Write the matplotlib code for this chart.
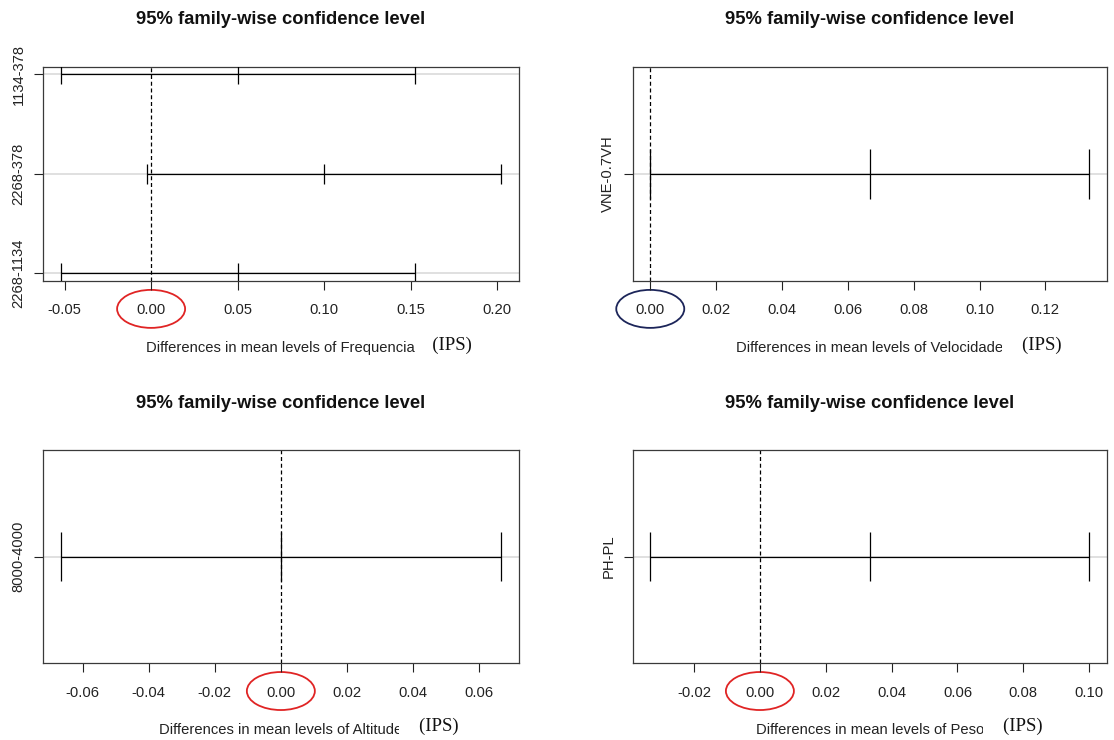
import numpy as np
import matplotlib.pyplot as plt
from matplotlib.patches import Ellipse
from matplotlib.transforms import ScaledTranslation, blended_transform_factory

plt.rcParams['font.family'] = ['Liberation Sans', 'DejaVu Sans']

# Tukey HSD results (diff, lower, upper) for each factor
freq_pairs = ["1134-378", "2268-378", "2268-1134"]
freq_diff = [0.05, 0.10, 0.05]
freq_lwr = [-0.0523, -0.0023, -0.0523]
freq_upr = [0.1523, 0.2023, 0.1523]
freq_ticks = [-0.05, 0.00, 0.05, 0.10, 0.15, 0.20]

vel_pairs = ["VNE-0.7VH"]
vel_diff = [0.0667]
vel_lwr = [0.0]
vel_upr = [0.1333]
vel_ticks = [0.00, 0.02, 0.04, 0.06, 0.08, 0.10, 0.12]

alt_pairs = ["8000-4000"]
alt_diff = [0.0]
alt_lwr = [-0.0667]
alt_upr = [0.0667]
alt_ticks = [-0.06, -0.04, -0.02, 0.00, 0.02, 0.04, 0.06]

peso_pairs = ["PH-PL"]
peso_diff = [0.0333]
peso_lwr = [-0.0333]
peso_upr = [0.1000]
peso_ticks = [-0.02, 0.00, 0.02, 0.04, 0.06, 0.08, 0.10]

W, H = 1114, 740
fig = plt.figure(figsize=(W / 100, H / 100), dpi=100)


def add_axes_px(left, top, right, bottom):
    return fig.add_axes([left / W, 1 - bottom / H, (right - left) / W, (bottom - top) / H])


def tukey_panel(ax, pairs, diff, lwr, upr, ticks, factor, ring_color):
    n = len(pairs)
    yvals = np.arange(n, 0, -1)
    lo, hi = min(lwr), max(upr)
    xpad = 0.04 * (hi - lo)
    xlim = (lo - xpad, hi + xpad)
    y0, y1 = (0.6, 1.4) if n == 1 else (1, n)
    ypad = 0.04 * (y1 - y0)

    ax.hlines(yvals, *xlim, colors='#dddddd', lw=1.3, zorder=1)
    ax.axvline(0, color='black', lw=0.9, ls=(0, (3.2, 2.2)), zorder=2)
    ax.hlines(yvals, lwr, upr, colors='black', lw=0.9, zorder=3)
    for vals in (lwr, diff, upr):
        ax.vlines(vals, yvals - 0.1, yvals + 0.1, colors='black', lw=0.9, zorder=3)

    ax.set_xlim(*xlim)
    ax.set_ylim(y0 - ypad, y1 + ypad)
    ax.set_xticks(ticks, labels=[f"{t:.2f}" for t in ticks])
    ax.set_yticks(yvals, labels=pairs, rotation=90, va='center')
    ax.tick_params(axis='both', length=6.5, width=0.8, labelsize=10.6, colors='#222222')
    ax.tick_params(axis='x', pad=9.5)
    ax.tick_params(axis='y', pad=6)
    for sp in ax.spines.values():
        sp.set_color('#3a3a3a')
        sp.set_linewidth(0.9)

    ax.text(0.5, 1 + 47 / 214.5, "95% family-wise confidence level", transform=ax.transAxes,
            ha='center', va='center', fontsize=13.2, fontweight='bold', color='#111111')
    ax.text(0.5, -0.312, f"Differences in mean levels of {factor}", transform=ax.transAxes,
            ha='center', va='center', fontsize=10.6, color='#222222')

    # ring around the zero tick label
    anchor = blended_transform_factory(ax.transData, ax.transAxes)
    ring = Ellipse((0, 0), 0.68, 0.38, fill=False, ec=ring_color, lw=1.3, clip_on=False,
                   transform=fig.dpi_scale_trans + ScaledTranslation(0.0, -0.13, anchor))
    ax.add_patch(ring)


ax1 = add_axes_px(43, 66.5, 518.7, 281)
ax2 = add_axes_px(632.7, 66.5, 1106.7, 281)
ax3 = add_axes_px(43, 450, 518.7, 663.3)
ax4 = add_axes_px(632.7, 450, 1106.7, 663.3)

tukey_panel(ax1, freq_pairs, freq_diff, freq_lwr, freq_upr, freq_ticks, "Frequencia", '#e02424')
tukey_panel(ax2, vel_pairs, vel_diff, vel_lwr, vel_upr, vel_ticks, "Velocidade", '#1c2559')
tukey_panel(ax3, alt_pairs, alt_diff, alt_lwr, alt_upr, alt_ticks, "Altitude", '#e02424')
tukey_panel(ax4, peso_pairs, peso_diff, peso_lwr, peso_upr, peso_ticks, "Peso", '#e02424')

# unit tag after each axis title, on a white patch
for x, y, gap in [(471.4, 345, 3), (1061.4, 345, 4), (458.2, 726.7, 4), (1043, 726.7, 4)]:
    fig.text(x / W, 1 - y / H, " " * gap + "(IPS)", ha='right', va='center', fontsize=13.5,
             family=['Liberation Serif', 'DejaVu Serif'], color='#111111',
             bbox=dict(boxstyle='square,pad=0.05', fc='white', ec='none'))

fig.savefig("out.png", dpi=100)
